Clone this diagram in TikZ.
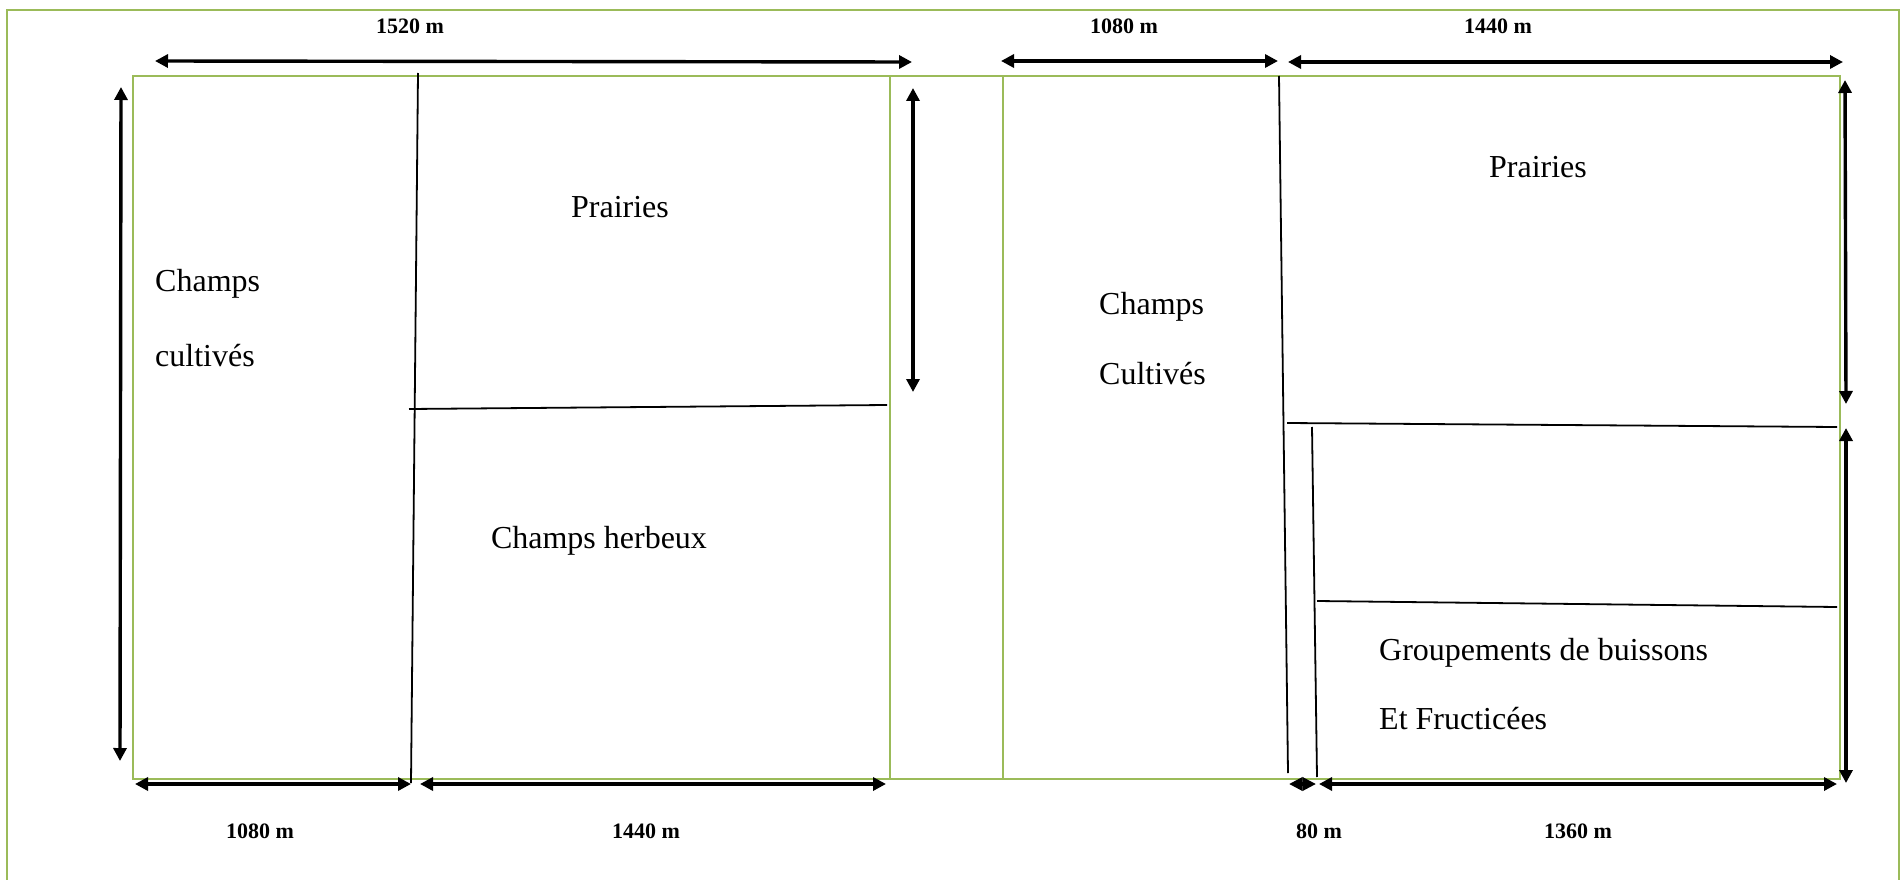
\documentclass[tikz,border=0pt]{standalone}
\usepackage{fontspec}
\setmainfont{Liberation Serif}
\usetikzlibrary{arrows.meta}
\definecolor{framegreen}{HTML}{9BBB59}
\begin{document}
\begin{tikzpicture}[x=1pt,y=-1pt,
  frame/.style={draw=framegreen, line width=2pt},
  divider/.style={draw=black, line width=1.8pt},
  dimline/.style={draw=black, line width=3.4pt,
    {Triangle[length=13pt,width=13pt]}-{Triangle[length=13pt,width=13pt]}},
  dimlabel/.style={font=\fontsize{22}{26}\selectfont\bfseries, inner sep=0pt},
  zone/.style={font=\fontsize{32}{38}\selectfont, inner sep=0pt},
]
\useasboundingbox (0,0) rectangle (1904,880);

% outer page frame
\draw[frame] (7,880) -- (7,10) -- (1899,10) -- (1899,880);

% parcel outlines
\draw[frame] (133,76) rectangle (1840,779);
\draw[frame] (890,76) -- (890,779);
\draw[frame] (1003,76) -- (1003,779);

% internal boundaries, left block
\draw[divider] (418,73) -- (411,783);
\draw[divider] (409,409) -- (887,405);

% internal boundaries, right block
\draw[divider] (1279,76) -- (1288,773);
\draw[divider] (1312,427) -- (1317,777);
\draw[divider] (1287,423) -- (1837,427);
\draw[divider] (1317,601) -- (1837,607);

% dimension end points
\coordinate (t1a) at (155,61);   \coordinate (t1b) at (912,62);
\coordinate (t2a) at (1001,61);  \coordinate (t2b) at (1278,61);
\coordinate (t3a) at (1288,62);  \coordinate (t3b) at (1843,62);
\coordinate (l1a) at (121,87);   \coordinate (l1b) at (120,761);
\coordinate (m1a) at (913,88);   \coordinate (m1b) at (913,392);
\coordinate (r1a) at (1845,80);  \coordinate (r1b) at (1846,404);
\coordinate (r2a) at (1846,428); \coordinate (r2b) at (1846,783);
\coordinate (b1a) at (135,784);  \coordinate (b1b) at (411,784);
\coordinate (b2a) at (420,784);  \coordinate (b2b) at (886,784);
\coordinate (b3a) at (1289,784); \coordinate (b3b) at (1316,784);
\coordinate (b4a) at (1319,784); \coordinate (b4b) at (1837,784);

% dimension arrows
\foreach \p in {t1,t2,t3,l1,m1,r1,r2,b1,b2,b4}
  \draw[dimline] (\p a) -- (\p b);
\draw[draw=black, line width=3.4pt,
  {Triangle[length=13.5pt,width=13pt]}-{Triangle[length=13.5pt,width=13pt]}] (b3a) -- (b3b);

% dimension labels
\node[dimlabel] (d1) at (410,26) {1520 m};
\node[dimlabel] (d2) at (1124,26) {1080 m};
\node[dimlabel] (d3) at (1498,26) {1440 m};
\node[dimlabel] (d4) at (260,831) {1080 m};
\node[dimlabel] (d5) at (646,831) {1440 m};
\node[dimlabel] (d6) at (1319,831) {80 m};
\node[dimlabel] (d7) at (1578,831) {1360 m};

% land-use labels
\node[zone, anchor=west] (z1) at (155,284) {Champs};
\node[zone, anchor=west] (z2) at (155,356) {cultivés};
\node[zone] (z3) at (620,207) {Prairies};
\node[zone] (z4) at (599,541) {Champs herbeux};
\node[zone, anchor=west] (z5) at (1099,307) {Champs};
\node[zone, anchor=west] (z6) at (1099,374) {Cultivés};
\node[zone] (z7) at (1538,167) {Prairies};
\node[zone, anchor=west] (z8) at (1379,653) {Groupements de buissons};
\node[zone, anchor=west] (z9) at (1379,719) {Et Fructicées};
\end{tikzpicture}
\end{document}
